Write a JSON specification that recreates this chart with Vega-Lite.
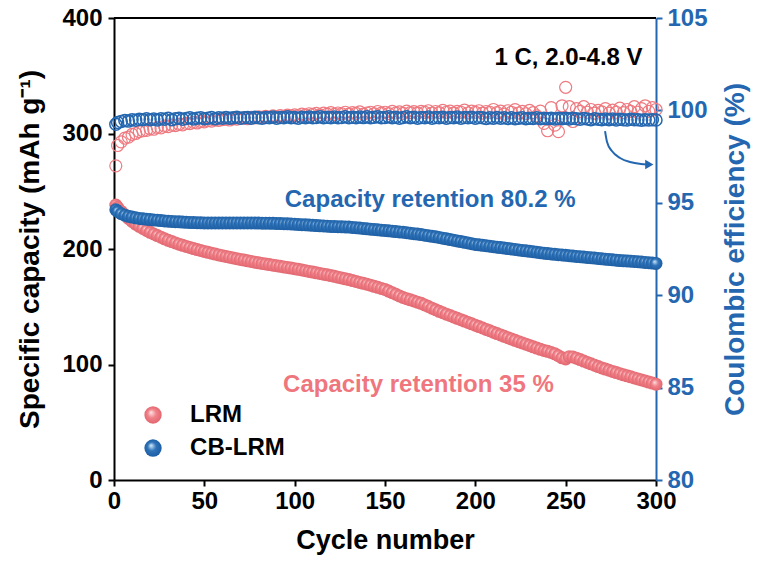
{
  "$schema": "https://vega.github.io/schema/vega-lite/v6.json",
  "width": 542,
  "height": 462,
  "autosize": {"type": "none"},
  "padding": {"left": 114, "top": 18, "right": 103, "bottom": 81},
  "background": "#ffffff",
  "config": {
    "font": "Liberation Sans",
    "view": {"stroke": null},
    "axis": {
      "labelFont": "Liberation Sans",
      "labelFontWeight": "bold",
      "labelFontSize": 24,
      "titleFont": "Liberation Sans",
      "titleFontWeight": "bold",
      "titleFontSize": 28,
      "grid": false,
      "domainWidth": 2,
      "tickWidth": 2,
      "tickSize": 6,
      "labelColor": "#000000",
      "titleColor": "#000000",
      "domainColor": "#000000",
      "tickColor": "#000000",
      "labelOverlap": false,
      "labelFlush": false,
      "zindex": 1
    },
    "axisX": {"titleFontSize": 27}
  },
  "datasets": {
    "cycles": [
      {"c":1,"l":238,"b":234,"le":97.0,"be":99.25},
      {"c":2,"l":236,"b":232.5,"le":98.1,"be":99.35},
      {"c":4,"l":232.5,"b":230.5,"le":98.3,"be":99.4},
      {"c":6,"l":229.5,"b":229.2,"le":98.5,"be":99.45},
      {"c":8,"l":226.5,"b":228.3,"le":98.55,"be":99.42},
      {"c":10,"l":223.8,"b":227.6,"le":98.7,"be":99.5},
      {"c":12,"l":221.6,"b":227,"le":98.75,"be":99.47},
      {"c":14,"l":219.6,"b":226.5,"le":98.85,"be":99.52},
      {"c":16,"l":217.8,"b":226.1,"le":98.9,"be":99.5},
      {"c":18,"l":216,"b":225.8,"le":98.92,"be":99.55},
      {"c":20,"l":214.4,"b":225.5,"le":99.0,"be":99.5},
      {"c":22,"l":213,"b":225.2,"le":98.98,"be":99.53},
      {"c":24,"l":211.6,"b":224.9,"le":99.08,"be":99.48},
      {"c":26,"l":210.2,"b":224.6,"le":99.05,"be":99.55},
      {"c":28,"l":208.8,"b":224.3,"le":99.15,"be":99.52},
      {"c":30,"l":207.5,"b":224.1,"le":99.12,"be":99.57},
      {"c":32,"l":206.4,"b":223.9,"le":99.2,"be":99.5},
      {"c":34,"l":205.3,"b":223.7,"le":99.18,"be":99.55},
      {"c":36,"l":204.2,"b":223.5,"le":99.25,"be":99.58},
      {"c":38,"l":203.2,"b":223.3,"le":99.22,"be":99.52},
      {"c":40,"l":202.2,"b":223.1,"le":99.3,"be":99.56},
      {"c":42,"l":201.3,"b":223,"le":99.28,"be":99.6},
      {"c":44,"l":200.4,"b":222.9,"le":99.35,"be":99.54},
      {"c":46,"l":199.5,"b":222.8,"le":99.32,"be":99.57},
      {"c":48,"l":198.7,"b":222.7,"le":99.4,"be":99.6},
      {"c":50,"l":197.9,"b":222.6,"le":99.38,"be":99.55},
      {"c":52,"l":197.1,"b":222.6,"le":99.45,"be":99.58},
      {"c":54,"l":196.3,"b":222.5,"le":99.42,"be":99.62},
      {"c":56,"l":195.6,"b":222.5,"le":99.48,"be":99.55},
      {"c":58,"l":194.9,"b":222.5,"le":99.46,"be":99.6},
      {"c":60,"l":194.2,"b":222.5,"le":99.5,"be":99.57},
      {"c":62,"l":193.5,"b":222.5,"le":99.52,"be":99.62},
      {"c":64,"l":192.9,"b":222.5,"le":99.48,"be":99.58},
      {"c":66,"l":192.2,"b":222.6,"le":99.55,"be":99.6},
      {"c":68,"l":191.6,"b":222.6,"le":99.53,"be":99.63},
      {"c":70,"l":191,"b":222.6,"le":99.57,"be":99.57},
      {"c":72,"l":190.4,"b":222.6,"le":99.6,"be":99.6},
      {"c":74,"l":189.8,"b":222.6,"le":99.55,"be":99.62},
      {"c":76,"l":189.2,"b":222.6,"le":99.62,"be":99.58},
      {"c":78,"l":188.6,"b":222.5,"le":99.6,"be":99.63},
      {"c":80,"l":188,"b":222.5,"le":99.65,"be":99.6},
      {"c":82,"l":187.5,"b":222.4,"le":99.62,"be":99.57},
      {"c":84,"l":187,"b":222.4,"le":99.68,"be":99.62},
      {"c":86,"l":186.5,"b":222.3,"le":99.63,"be":99.6},
      {"c":88,"l":186,"b":222.2,"le":99.7,"be":99.64},
      {"c":90,"l":185.5,"b":222.1,"le":99.66,"be":99.58},
      {"c":92,"l":185,"b":222,"le":99.72,"be":99.62},
      {"c":94,"l":184.5,"b":221.9,"le":99.68,"be":99.6},
      {"c":96,"l":184,"b":221.8,"le":99.74,"be":99.65},
      {"c":98,"l":183.5,"b":221.7,"le":99.7,"be":99.6},
      {"c":100,"l":183,"b":221.5,"le":99.76,"be":99.62},
      {"c":102,"l":182.4,"b":221.3,"le":99.72,"be":99.58},
      {"c":104,"l":181.8,"b":221.1,"le":99.8,"be":99.63},
      {"c":106,"l":181.2,"b":220.9,"le":99.75,"be":99.6},
      {"c":108,"l":180.6,"b":220.7,"le":99.82,"be":99.64},
      {"c":110,"l":180,"b":220.5,"le":99.78,"be":99.6},
      {"c":112,"l":179.4,"b":220.3,"le":99.84,"be":99.62},
      {"c":114,"l":178.8,"b":220.1,"le":99.76,"be":99.66},
      {"c":116,"l":178.2,"b":219.9,"le":99.85,"be":99.6},
      {"c":118,"l":177.6,"b":219.7,"le":99.8,"be":99.63},
      {"c":120,"l":177,"b":219.5,"le":99.88,"be":99.6},
      {"c":122,"l":176.3,"b":219.4,"le":99.78,"be":99.64},
      {"c":124,"l":175.6,"b":219.3,"le":99.86,"be":99.6},
      {"c":126,"l":174.9,"b":219.2,"le":99.82,"be":99.62},
      {"c":128,"l":174.2,"b":219.1,"le":99.9,"be":99.66},
      {"c":130,"l":173.5,"b":219,"le":99.8,"be":99.6},
      {"c":132,"l":172.7,"b":218.7,"le":99.88,"be":99.63},
      {"c":134,"l":171.9,"b":218.4,"le":99.84,"be":99.6},
      {"c":136,"l":171.1,"b":218.1,"le":99.92,"be":99.64},
      {"c":138,"l":170.3,"b":217.8,"le":99.8,"be":99.61},
      {"c":140,"l":169.5,"b":217.5,"le":99.86,"be":99.65},
      {"c":142,"l":168.6,"b":217.2,"le":99.9,"be":99.6},
      {"c":144,"l":167.7,"b":216.9,"le":99.82,"be":99.63},
      {"c":146,"l":166.8,"b":216.6,"le":99.94,"be":99.66},
      {"c":148,"l":165.9,"b":216.3,"le":99.85,"be":99.6},
      {"c":150,"l":165,"b":216,"le":99.9,"be":99.62},
      {"c":152,"l":163.6,"b":215.7,"le":99.83,"be":99.65},
      {"c":154,"l":162.2,"b":215.4,"le":99.95,"be":99.6},
      {"c":156,"l":160.8,"b":215.1,"le":99.86,"be":99.63},
      {"c":158,"l":159.4,"b":214.8,"le":99.92,"be":99.58},
      {"c":160,"l":158,"b":214.5,"le":99.84,"be":99.62},
      {"c":162,"l":157,"b":214.1,"le":99.96,"be":99.66},
      {"c":164,"l":156,"b":213.7,"le":99.88,"be":99.6},
      {"c":166,"l":155,"b":213.3,"le":99.93,"be":99.63},
      {"c":168,"l":154,"b":212.9,"le":99.85,"be":99.58},
      {"c":170,"l":153,"b":212.5,"le":99.95,"be":99.62},
      {"c":172,"l":151.6,"b":212,"le":99.9,"be":99.6},
      {"c":174,"l":150.2,"b":211.5,"le":99.98,"be":99.64},
      {"c":176,"l":148.8,"b":211,"le":99.86,"be":99.58},
      {"c":178,"l":147.4,"b":210.5,"le":99.94,"be":99.62},
      {"c":180,"l":146,"b":210,"le":99.88,"be":99.6},
      {"c":182,"l":144.8,"b":209.4,"le":100.0,"be":99.63},
      {"c":184,"l":143.6,"b":208.8,"le":99.9,"be":99.58},
      {"c":186,"l":142.4,"b":208.2,"le":99.96,"be":99.62},
      {"c":188,"l":141.2,"b":207.6,"le":99.85,"be":99.6},
      {"c":190,"l":140,"b":207,"le":99.95,"be":99.64},
      {"c":192,"l":138.8,"b":206.4,"le":99.9,"be":99.58},
      {"c":194,"l":137.6,"b":205.8,"le":100.02,"be":99.62},
      {"c":196,"l":136.4,"b":205.2,"le":99.86,"be":99.6},
      {"c":198,"l":135.2,"b":204.6,"le":99.96,"be":99.63},
      {"c":200,"l":134,"b":204,"le":99.9,"be":99.58},
      {"c":202,"l":132.8,"b":203.6,"le":99.98,"be":99.62},
      {"c":204,"l":131.6,"b":203.2,"le":99.85,"be":99.6},
      {"c":206,"l":130.4,"b":202.8,"le":99.94,"be":99.56},
      {"c":208,"l":129.2,"b":202.4,"le":99.9,"be":99.6},
      {"c":210,"l":128,"b":202,"le":100.05,"be":99.58},
      {"c":212,"l":126.8,"b":201.6,"le":99.88,"be":99.62},
      {"c":214,"l":125.6,"b":201.2,"le":99.96,"be":99.57},
      {"c":216,"l":124.4,"b":200.8,"le":99.8,"be":99.6},
      {"c":218,"l":123.2,"b":200.4,"le":99.98,"be":99.56},
      {"c":220,"l":122,"b":200,"le":99.9,"be":99.6},
      {"c":222,"l":120.9,"b":199.6,"le":100.04,"be":99.55},
      {"c":224,"l":119.8,"b":199.2,"le":99.86,"be":99.58},
      {"c":226,"l":118.7,"b":198.8,"le":99.95,"be":99.6},
      {"c":228,"l":117.6,"b":198.4,"le":99.82,"be":99.55},
      {"c":230,"l":116.5,"b":198,"le":100.0,"be":99.58},
      {"c":232,"l":115.3,"b":197.6,"le":99.88,"be":99.56},
      {"c":234,"l":114.2,"b":197.2,"le":99.7,"be":99.6},
      {"c":236,"l":113.1,"b":196.8,"le":99.96,"be":99.55},
      {"c":238,"l":112.1,"b":196.4,"le":99.3,"be":99.58},
      {"c":240,"l":111.4,"b":196,"le":98.9,"be":99.55},
      {"c":242,"l":110.4,"b":195.7,"le":100.15,"be":99.58},
      {"c":244,"l":109.2,"b":195.4,"le":99.2,"be":99.54},
      {"c":246,"l":107.6,"b":195.1,"le":98.85,"be":99.57},
      {"c":248,"l":105.8,"b":194.8,"le":100.25,"be":99.55},
      {"c":250,"l":104.8,"b":194.5,"le":101.25,"be":99.58},
      {"c":252,"l":106.8,"b":194.2,"le":100.2,"be":99.54},
      {"c":254,"l":106.5,"b":193.9,"le":99.4,"be":99.57},
      {"c":256,"l":105.5,"b":193.6,"le":100.1,"be":99.55},
      {"c":258,"l":104.3,"b":193.3,"le":99.95,"be":99.52},
      {"c":260,"l":103,"b":193,"le":100.2,"be":99.56},
      {"c":262,"l":101.8,"b":192.7,"le":99.9,"be":99.54},
      {"c":264,"l":100.6,"b":192.4,"le":100.05,"be":99.5},
      {"c":266,"l":99.4,"b":192.1,"le":99.85,"be":99.55},
      {"c":268,"l":98.2,"b":191.8,"le":100.0,"be":99.52},
      {"c":270,"l":97,"b":191.5,"le":99.92,"be":99.5},
      {"c":272,"l":96,"b":191.2,"le":100.1,"be":99.54},
      {"c":274,"l":95,"b":190.9,"le":99.85,"be":99.5},
      {"c":276,"l":94,"b":190.6,"le":100.02,"be":99.53},
      {"c":278,"l":93,"b":190.3,"le":99.9,"be":99.48},
      {"c":280,"l":92,"b":190,"le":100.12,"be":99.52},
      {"c":282,"l":91.1,"b":189.8,"le":99.88,"be":99.5},
      {"c":284,"l":90.2,"b":189.6,"le":100.05,"be":99.48},
      {"c":286,"l":89.3,"b":189.4,"le":99.95,"be":99.52},
      {"c":288,"l":88.4,"b":189.2,"le":100.2,"be":99.49},
      {"c":290,"l":87.5,"b":189,"le":99.9,"be":99.5},
      {"c":292,"l":86.6,"b":188.7,"le":100.1,"be":99.47},
      {"c":294,"l":85.7,"b":188.4,"le":100.25,"be":99.5},
      {"c":296,"l":84.8,"b":188.1,"le":99.95,"be":99.48},
      {"c":298,"l":83.9,"b":187.8,"le":100.15,"be":99.5},
      {"c":300,"l":83,"b":187.5,"le":100.05,"be":99.48}
    ],
    "notes": [
      {"c":251.6,"cap":365.4,"s":"cond","t":"1 C, 2.0-4.8 V"},
      {"c":175,"cap":242.4,"s":"CB-LRM","t":"Capacity retention 80.2 %"},
      {"c":168.5,"cap":82.3,"s":"LRM","t":"Capacity retention 35 %"}
    ],
    "arrow": [
      {"c":271.8,"cap":302},
      {"c":272.9,"cap":292.6},
      {"c":275.6,"cap":284.8},
      {"c":280.1,"cap":278.8},
      {"c":285.6,"cap":275.3},
      {"c":291.7,"cap":273.6},
      {"c":295,"cap":273.2}
    ],
    "keys": [
      {"c":21.6,"cap":56.3,"tc":42.1,"s":"LRM"},
      {"c":21.6,"cap":27.7,"tc":42.1,"s":"CB-LRM"}
    ]
  },
  "layer": [
    {
      "data": {"name": "cycles"},
      "layer": [
        {
          "mark": {"type": "point", "filled": false, "stroke": "#EE7A80", "strokeWidth": 1.2, "size": 144, "opacity": 1},
          "encoding": {
            "x": {"field": "c", "type": "quantitative", "scale": {"domain": [0, 300], "nice": false},
              "axis": {"title": "Cycle number", "values": [0, 50, 100, 150, 200, 250, 300], "labelPadding": 3, "titlePadding": 14}},
            "y": {"field": "le", "type": "quantitative", "scale": {"domain": [80, 105], "nice": false, "zero": false},
              "axis": {"orient": "right", "title": "Coulombic efficiency (%)", "values": [80, 85, 90, 95, 100, 105],
                "labelColor": "#2467B0", "titleColor": "#2467B0", "domainColor": "#2467B0", "tickColor": "#2467B0",
                "labelPadding": 5, "titlePadding": 14, "titleAngle": -90, "titleBaseline": "top"}}
          }
        },
        {
          "mark": {"type": "point", "filled": false, "stroke": "#2467B0", "strokeWidth": 1.5, "size": 144, "opacity": 1},
          "encoding": {
            "x": {"field": "c", "type": "quantitative"},
            "y": {"field": "be", "type": "quantitative"}
          }
        }
      ]
    },
    {
      "layer": [
        {
          "data": {"name": "cycles"},
          "mark": {"type": "point", "filled": true, "size": 169, "opacity": 1, "strokeWidth": 0,
            "fill": {"gradient": "radial", "x1": 0.38, "y1": 0.35, "r1": 0, "x2": 0.5, "y2": 0.5, "r2": 0.55,
              "stops": [{"offset": 0, "color": "#ffe6e8"}, {"offset": 0.45, "color": "#f0828a"}, {"offset": 1, "color": "#e0626b"}]}},
          "encoding": {
            "x": {"field": "c", "type": "quantitative"},
            "y": {"field": "l", "type": "quantitative", "scale": {"domain": [0, 400], "nice": false},
              "axis": {"title": "Specific capacity (mAh g⁻¹)", "values": [0, 100, 200, 300, 400], "labelPadding": 6, "titlePadding": 17}}
          }
        },
        {
          "data": {"name": "cycles"},
          "mark": {"type": "point", "filled": true, "size": 169, "opacity": 1, "strokeWidth": 0,
            "fill": {"gradient": "radial", "x1": 0.38, "y1": 0.35, "r1": 0, "x2": 0.5, "y2": 0.5, "r2": 0.55,
              "stops": [{"offset": 0, "color": "#d8eefa"}, {"offset": 0.45, "color": "#2f74ba"}, {"offset": 1, "color": "#1a5aa0"}]}},
          "encoding": {
            "x": {"field": "c", "type": "quantitative"},
            "y": {"field": "b", "type": "quantitative"}
          }
        },
        {
          "data": {"values": [{"cap": 400}]},
          "mark": {"type": "rule", "color": "#000000", "strokeWidth": 2},
          "encoding": {
            "y": {"field": "cap", "type": "quantitative"}
          }
        },
        {
          "data": {"name": "notes"},
          "mark": {"type": "text", "font": "Liberation Sans", "fontWeight": "bold", "fontSize": 24, "align": "center", "baseline": "middle"},
          "encoding": {
            "x": {"field": "c", "type": "quantitative"},
            "y": {"field": "cap", "type": "quantitative"},
            "text": {"field": "t"},
            "color": {"field": "s", "type": "nominal", "legend": null,
              "scale": {"domain": ["LRM", "CB-LRM", "cond"], "range": ["#EF767D", "#2467B0", "#000000"]}}
          }
        },
        {
          "data": {"name": "arrow"},
          "mark": {"type": "line", "color": "#2467B0", "strokeWidth": 2, "interpolate": "monotone"},
          "encoding": {
            "x": {"field": "c", "type": "quantitative"},
            "y": {"field": "cap", "type": "quantitative"}
          }
        },
        {
          "data": {"values": [{"c": 296.3, "cap": 273.1}]},
          "mark": {"type": "point", "shape": "triangle-right", "filled": true, "color": "#2467B0", "size": 90, "opacity": 1},
          "encoding": {
            "x": {"field": "c", "type": "quantitative"},
            "y": {"field": "cap", "type": "quantitative"}
          }
        },
        {
          "data": {"name": "keys"},
          "transform": [{"filter": "datum.s === 'LRM'"}],
          "mark": {"type": "point", "filled": true, "size": 300, "opacity": 1, "strokeWidth": 0,
            "fill": {"gradient": "radial", "x1": 0.38, "y1": 0.35, "r1": 0, "x2": 0.5, "y2": 0.5, "r2": 0.55,
              "stops": [{"offset": 0, "color": "#ffe6e8"}, {"offset": 0.45, "color": "#f0828a"}, {"offset": 1, "color": "#e0626b"}]}},
          "encoding": {
            "x": {"field": "c", "type": "quantitative"},
            "y": {"field": "cap", "type": "quantitative"}
          }
        },
        {
          "data": {"name": "keys"},
          "transform": [{"filter": "datum.s === 'CB-LRM'"}],
          "mark": {"type": "point", "filled": true, "size": 300, "opacity": 1, "strokeWidth": 0,
            "fill": {"gradient": "radial", "x1": 0.38, "y1": 0.35, "r1": 0, "x2": 0.5, "y2": 0.5, "r2": 0.55,
              "stops": [{"offset": 0, "color": "#d8eefa"}, {"offset": 0.45, "color": "#2f74ba"}, {"offset": 1, "color": "#1a5aa0"}]}},
          "encoding": {
            "x": {"field": "c", "type": "quantitative"},
            "y": {"field": "cap", "type": "quantitative"}
          }
        },
        {
          "data": {"name": "keys"},
          "mark": {"type": "text", "font": "Liberation Sans", "fontWeight": "bold", "fontSize": 24, "align": "left", "baseline": "middle", "color": "#000000"},
          "encoding": {
            "x": {"field": "tc", "type": "quantitative"},
            "y": {"field": "cap", "type": "quantitative"},
            "text": {"field": "s"}
          }
        }
      ]
    }
  ],
  "resolve": {"scale": {"y": "independent"}}
}
